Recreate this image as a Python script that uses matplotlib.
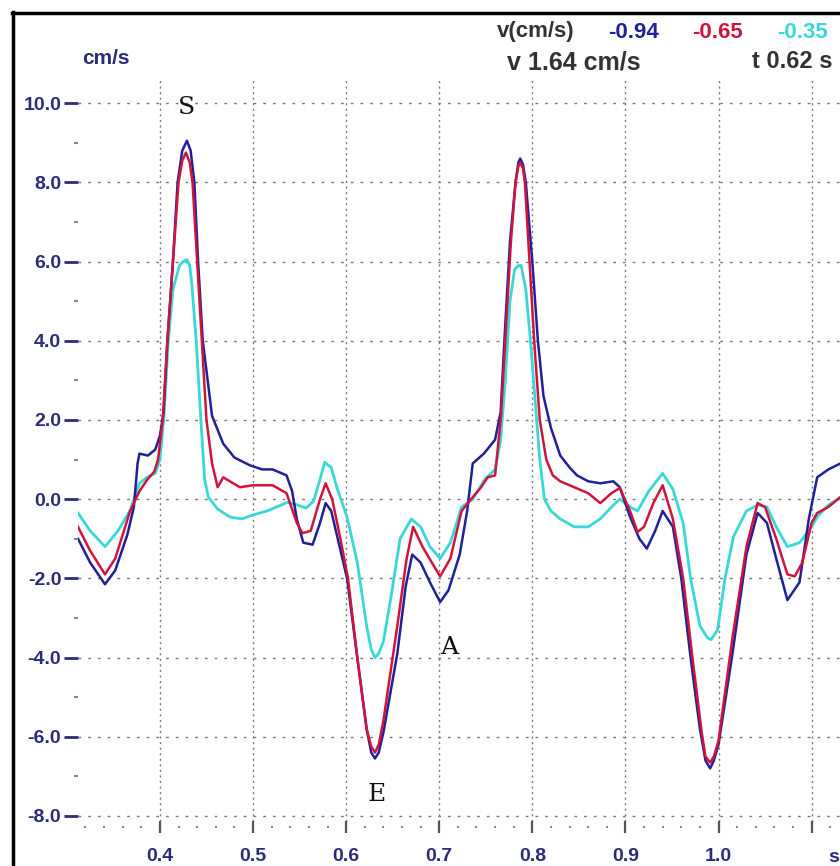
import matplotlib
matplotlib.use("Agg")
import matplotlib.pyplot as plt
from matplotlib.lines import Line2D
from matplotlib.ticker import MultipleLocator, FixedLocator

# ---------------- tissue velocity traces (time in s, velocity in cm/s) ----------------
t_blue = [0.312, 0.325, 0.341, 0.352, 0.365, 0.372, 0.376, 0.378, 0.387, 0.395, 0.400,
          0.404, 0.408, 0.414, 0.419, 0.424, 0.429, 0.433, 0.437, 0.441, 0.446, 0.456,
          0.468, 0.480, 0.497, 0.510, 0.521, 0.536, 0.542, 0.547, 0.554, 0.564, 0.572,
          0.578, 0.584, 0.590, 0.601, 0.612, 0.622, 0.627, 0.631, 0.635, 0.640, 0.655,
          0.664, 0.671, 0.680, 0.690, 0.701, 0.710, 0.722, 0.730, 0.736, 0.748, 0.760,
          0.766, 0.770, 0.776, 0.782, 0.785, 0.787, 0.790, 0.793, 0.800, 0.806, 0.812,
          0.820, 0.830, 0.840, 0.848, 0.860, 0.873, 0.887, 0.894, 0.905, 0.915, 0.923,
          0.932, 0.940, 0.951, 0.960, 0.970, 0.980, 0.986, 0.991, 0.995, 1.000, 1.015,
          1.030, 1.042, 1.052, 1.062, 1.074, 1.087, 1.097, 1.106, 1.118, 1.131]
v_blue = [-1.0, -1.6, -2.15, -1.8, -0.9, -0.2, 0.9, 1.15, 1.1, 1.25, 1.6,
          2.2, 4.0, 6.0, 8.0, 8.8, 9.05, 8.8, 8.0, 6.0, 4.0, 2.1,
          1.4, 1.05, 0.85, 0.75, 0.75, 0.6, 0.2, -0.5, -1.1, -1.15, -0.6,
          -0.1, -0.3, -0.9, -2.0, -4.0, -5.8, -6.4, -6.55, -6.4, -5.9, -3.9,
          -2.2, -1.4, -1.6, -2.1, -2.6, -2.3, -1.4, -0.3, 0.9, 1.15, 1.5,
          2.2, 4.0, 6.5, 8.0, 8.5, 8.6, 8.45, 8.0, 6.0, 4.0, 2.6,
          1.8, 1.1, 0.8, 0.6, 0.45, 0.4, 0.45, 0.3, -0.45, -1.0, -1.25,
          -0.8, -0.3, -0.7, -2.0, -4.0, -5.8, -6.6, -6.8, -6.6, -6.2, -3.9,
          -1.4, -0.35, -0.6, -1.5, -2.55, -2.1, -0.5, 0.55, 0.75, 0.9]

t_red = [0.312, 0.325, 0.341, 0.352, 0.368, 0.378, 0.386, 0.394, 0.398, 0.403, 0.408,
         0.414, 0.420, 0.424, 0.428, 0.432, 0.435, 0.440, 0.445, 0.450, 0.456, 0.462,
         0.468, 0.475, 0.486, 0.500, 0.521, 0.536, 0.547, 0.553, 0.562, 0.572, 0.578,
         0.585, 0.593, 0.602, 0.612, 0.622, 0.627, 0.631, 0.635, 0.640, 0.655, 0.665,
         0.672, 0.682, 0.692, 0.701, 0.712, 0.724, 0.736, 0.745, 0.752, 0.760, 0.766,
         0.771, 0.777, 0.782, 0.785, 0.787, 0.790, 0.792, 0.797, 0.802, 0.808, 0.815,
         0.822, 0.830, 0.845, 0.860, 0.873, 0.885, 0.894, 0.905, 0.913, 0.920, 0.930,
         0.940, 0.951, 0.962, 0.972, 0.982, 0.986, 0.991, 0.995, 1.000, 1.015, 1.030,
         1.042, 1.050, 1.062, 1.074, 1.082, 1.090, 1.100, 1.106, 1.118, 1.131]
v_red = [-0.7, -1.3, -1.9, -1.5, -0.3, 0.2, 0.48, 0.7, 1.0, 2.0, 4.0,
         6.0, 8.0, 8.55, 8.75, 8.5, 8.0, 6.0, 4.0, 2.0, 0.9, 0.3,
         0.55, 0.45, 0.3, 0.35, 0.35, 0.15, -0.6, -0.86, -0.8, 0.0, 0.4,
         0.0, -0.9, -2.0, -4.0, -5.8, -6.25, -6.4, -6.2, -5.6, -3.2, -1.5,
         -0.7, -1.2, -1.6, -1.95, -1.5, -0.3, 0.05, 0.3, 0.55, 0.6, 2.0,
         4.0, 6.5, 8.0, 8.4, 8.5, 8.35, 8.0, 6.0, 4.0, 2.0, 1.0,
         0.6, 0.45, 0.3, 0.15, -0.1, 0.15, 0.28, -0.3, -0.83, -0.7, -0.1,
         0.35, -0.5, -2.0, -4.0, -5.9, -6.5, -6.65, -6.5, -6.1, -3.5, -1.2,
         -0.1, -0.2, -1.0, -1.9, -1.95, -1.6, -0.6, -0.35, -0.2, 0.05]

t_cyan = [0.312, 0.325, 0.341, 0.355, 0.368, 0.378, 0.386, 0.395, 0.400, 0.404, 0.409,
          0.414, 0.421, 0.425, 0.429, 0.432, 0.434, 0.439, 0.444, 0.448, 0.452, 0.462,
          0.475, 0.488, 0.500, 0.515, 0.530, 0.537, 0.548, 0.557, 0.565, 0.572, 0.577,
          0.584, 0.590, 0.601, 0.612, 0.622, 0.627, 0.631, 0.635, 0.640, 0.648, 0.658,
          0.670, 0.680, 0.690, 0.701, 0.712, 0.724, 0.736, 0.749, 0.760, 0.766, 0.771,
          0.776, 0.781, 0.785, 0.788, 0.793, 0.798, 0.803, 0.808, 0.813, 0.820, 0.830,
          0.845, 0.860, 0.873, 0.885, 0.894, 0.905, 0.913, 0.925, 0.940, 0.951, 0.962,
          0.970, 0.980, 0.988, 0.992, 0.999, 1.007, 1.016, 1.030, 1.042, 1.052, 1.062,
          1.074, 1.087, 1.100, 1.106, 1.118, 1.131]
v_cyan = [-0.35, -0.8, -1.2, -0.8, -0.28, 0.4, 0.55, 0.65, 1.0, 2.0, 4.0,
          5.3, 5.9, 6.0, 6.05, 5.9, 5.5, 4.0, 2.0, 0.5, 0.05, -0.25,
          -0.45, -0.5, -0.4, -0.3, -0.15, -0.08, -0.15, -0.23, -0.05, 0.5, 0.93,
          0.8, 0.3, -0.45, -1.6, -3.2, -3.8, -4.0, -3.9, -3.6, -2.5, -1.0,
          -0.5, -0.7, -1.2, -1.5, -1.1, -0.2, 0.0, 0.5, 0.75, 1.5, 3.0,
          5.0, 5.8, 5.9, 5.9, 5.3, 4.0, 2.5, 1.0, 0.0, -0.3, -0.5,
          -0.7, -0.7, -0.5, -0.2, 0.0, -0.2, -0.3, 0.2, 0.65, 0.25, -0.6,
          -2.0, -3.2, -3.5, -3.55, -3.3, -2.0, -0.95, -0.3, -0.15, -0.2, -0.7,
          -1.2, -1.1, -0.7, -0.45, -0.15, 0.05]

x_ticks = [0.4, 0.5, 0.6, 0.7, 0.8, 0.9, 1.0, 1.1]
x_tick_labels = ["0.4", "0.5", "0.6", "0.7", "0.8", "0.9", "1.0", ""]
y_ticks = [-8.0, -6.0, -4.0, -2.0, 0.0, 2.0, 4.0, 6.0, 8.0, 10.0]
y_tick_labels = ["-8.0", "-6.0", "-4.0", "-2.0", "0.0", "2.0", "4.0", "6.0", "8.0", "10.0"]

# wave markers: label, time, velocity
wave_labels = ["S", "E", "A"]
wave_t = [0.429, 0.633, 0.711]
wave_v = [9.9, -7.45, -3.75]

cursor_values = ["-0.94", "-0.65", "-0.35"]

BLUE = "#20209a"
RED = "#d0143c"
CYAN = "#38d8d8"
NAVY = "#2b2b7a"
GRID = "#7a7a7a"

plt.rcParams["font.family"] = ["Liberation Sans", "DejaVu Sans"]

W, H = 840, 866
fig = plt.figure(figsize=(W / 100, H / 100), dpi=100)
fig.patch.set_facecolor("white")

ax = fig.add_axes([78 / W, 1 - 827 / H, 1 - 78 / W, (827 - 77) / H])
ax.set_xlim(0.312, 1.1305)
ax.set_ylim(-8.28, 10.66)
for s in ax.spines.values():
    s.set_visible(False)

# dotted grid
for yv in y_ticks:
    ax.axhline(yv, color=GRID, lw=1.0, ls=(0, (2, 5)), zorder=1)
for xv in x_ticks:
    ax.axvline(xv, color=GRID, lw=1.0, ls=(0, (1.5, 2.5)), zorder=1)

ax.plot(t_blue, v_blue, color=BLUE, lw=1.8, zorder=3)
ax.plot(t_red, v_red, color=RED, lw=1.8, zorder=4)
ax.plot(t_cyan, v_cyan, color=CYAN, lw=2.0, zorder=2)

# axis ticks
ax.xaxis.set_major_locator(FixedLocator(x_ticks))
ax.xaxis.set_minor_locator(MultipleLocator(0.02))
ax.set_xticklabels(x_tick_labels)
ax.yaxis.set_major_locator(FixedLocator(y_ticks))
ax.yaxis.set_minor_locator(MultipleLocator(1.0))
ax.set_yticklabels(y_tick_labels)

ax.tick_params(axis="x", which="major", direction="inout", length=8, width=1.6,
               color="#555555", pad=11, labelsize=14, labelcolor=NAVY)
ax.tick_params(axis="x", which="minor", direction="inout", length=2, width=1.5,
               color="#888888")
ax.tick_params(axis="y", which="major", direction="out", length=10, width=2.0,
               color=NAVY, pad=2, labelsize=14, labelcolor=NAVY)
ax.tick_params(axis="y", which="minor", direction="out", length=3, width=1.5,
               color="#888888")
for lab in ax.get_xticklabels() + ax.get_yticklabels():
    lab.set_fontweight("bold")

for lab, tx, vy in zip(wave_labels, wave_t, wave_v):
    ax.text(tx, vy, lab, family="DejaVu Serif", fontsize=18,
            ha="center", va="center", color="#111111", zorder=5)

# header texts
fig.text(82 / W, 1 - 58 / H, "cm/s", color=NAVY, fontsize=15, fontweight="bold",
         ha="left", va="center")
fig.text(497 / W, 1 - 32 / H, "v(cm/s)", color="#333333", fontsize=16,
         fontweight="bold", ha="left", va="center")
for txt, col, xp in zip(cursor_values, [BLUE, RED, CYAN], [608, 692, 777]):
    fig.text(xp / W, 1 - 32 / H, txt, color=col, fontsize=16, fontweight="bold",
             ha="left", va="center")
fig.text(507 / W, 1 - 62 / H, "v 1.64 cm/s", color="#333333", fontsize=18,
         fontweight="bold", ha="left", va="center")
fig.text(752 / W, 1 - 62 / H, "t 0.62 s", color="#333333", fontsize=17,
         fontweight="bold", ha="left", va="center")
fig.text(839 / W, 1 - 857 / H, "s", color=NAVY, fontsize=14, fontweight="bold",
         ha="right", va="center")

# window frame
fig.add_artist(Line2D([13 / W, 13 / W], [0, 1 - 12 / H], transform=fig.transFigure,
                      color="black", lw=2.5))
fig.add_artist(Line2D([12 / W, 1], [1 - 13 / H, 1 - 13 / H], transform=fig.transFigure,
                      color="black", lw=2.5))

fig.savefig("out.png", dpi=100, facecolor="white")
